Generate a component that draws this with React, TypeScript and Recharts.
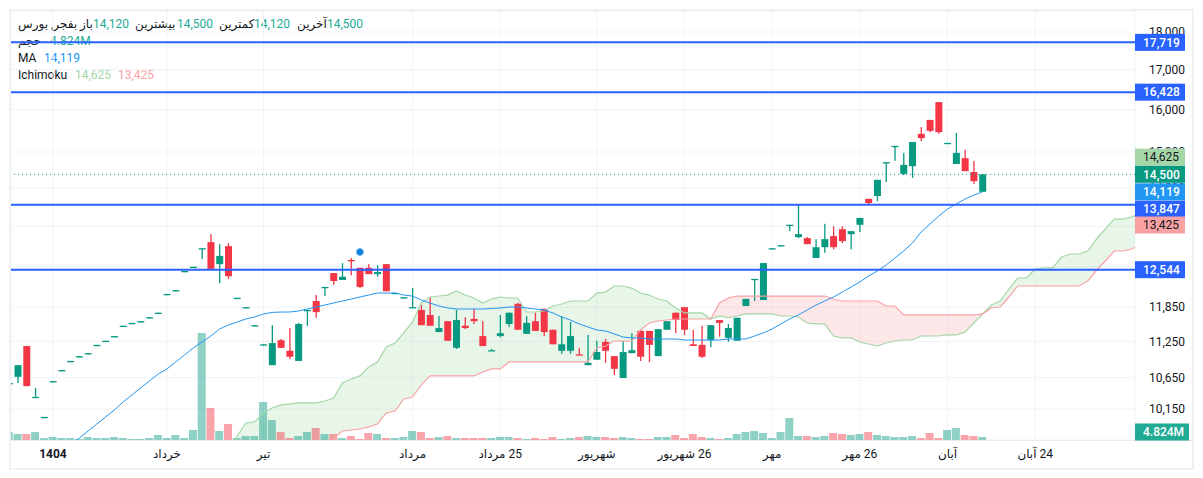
import React from 'react';
import { ComposedChart, Bar, Cell, Line, Area, XAxis, YAxis, CartesianGrid, ReferenceLine, ReferenceDot } from 'recharts';

const opens = [10560,
  10660,11170,10340,10030,10590,10770,10920,11000,11050,11190,
  11260,11340,11520,11570,11600,11670,11750,12090,12160,12520,
  12600,12960,13080,12650,13000,12020,11850,11530,11200,10850,
  11270,11090,10920,11800,11960,12220,12480,12350,12730,12580,
  12580,12460,12650,12110,12030,11850,11800,11710,11410,11600,
  11140,11520,11640,11340,11100,11340,11550,11910,11380,11600,
  11820,11450,11090,11090,11030,10850,10940,11240,11000,10640,
  11050,11430,11430,11000,11450,11750,11850,11200,11190,11270,
  11620,11310,11260,11870,12370,11980,12960,13020,13430,13180,
  13160,12770,12980,13200,13340,13240,13430,13970,14030,14770,
  15140,14510,14680,15420,15750,16180,15210,14730,14860,14550,14120];
const highs = [10560,
  10850,11170,10480,10030,10590,10770,10920,11000,11050,11190,
  11260,11340,11520,11570,11600,11670,11750,12090,12160,12520,
  12600,12960,13240,13040,13060,12020,11850,11530,11200,11530,
  11290,11480,11570,11800,12070,12220,12480,12670,12770,12580,
  12650,12630,12650,12110,12030,12200,11890,12030,11690,11600,
  11800,11670,11820,11600,11120,11710,11750,11930,11690,11750,
  11820,11450,11690,11590,11140,11360,11260,11290,11000,11260,
  11390,11450,11430,11460,11600,11750,11850,11450,11520,11530,
  11620,11550,11660,12000,12370,12670,12960,13020,13430,13840,
  13180,13140,13450,13400,13400,13300,13570,13970,14380,14770,
  15140,14980,15230,15580,15750,16180,15210,15440,15050,14800,14500];
const lows = [10560,
  10560,10510,10340,10030,10590,10770,10920,11000,11050,11190,
  11260,11340,11520,11570,11600,11670,11750,12090,12160,12520,
  12600,12750,12560,12290,12370,12020,11850,11530,11200,10850,
  11140,10950,10920,11520,11660,12050,12260,12350,12440,12200,
  12460,12410,12140,12110,12030,11850,11530,11520,11410,11260,
  11120,11460,11550,11170,11100,11320,11500,11450,11380,11430,
  11340,11200,11040,11040,11020,10850,10940,10890,10690,10640,
  11050,10920,10900,11000,11450,11390,11360,11170,10970,11150,
  11330,11240,11260,11870,11960,11980,12960,13020,13300,13160,
  13040,12770,12870,12940,13060,12940,13280,13860,13920,14330,
  14800,14480,14420,15250,15460,15420,15210,14730,14570,14290,14120];
const closes = [10560,
  10850,10510,10340,10030,10590,10770,10920,11000,11050,11190,
  11260,11340,11520,11570,11600,11670,11750,12090,12160,12520,
  12600,12960,12560,12810,12420,12020,11850,11530,11200,11220,
  11140,10990,11550,11800,11760,12220,12330,12410,12720,12220,
  12460,12500,12140,12110,12030,11850,11530,11520,11480,11260,
  11620,11480,11600,11170,11100,11390,11750,11450,11570,11430,
  11410,11200,11200,11340,11020,10890,11070,11090,10790,11070,
  11100,10990,11190,11460,11600,11620,11450,11170,10990,11530,
  11570,11480,11660,12000,12370,12670,12960,13020,13430,13240,
  13040,12980,13140,12980,13100,13300,13570,13880,14380,14770,
  15140,14710,15230,15320,15490,15460,15210,14980,14570,14350,14500];
const volumes = [12.8,
  9.6,9.6,12.8,3.2,4.8,3.2,3.2,1.6,4.8,3.2,
  3.2,4.8,3.2,1.6,1.6,3.2,8,3.2,8,3.2,
  16,171.2,51.2,14.4,25.6,3.2,6.4,6.4,60.8,32,
  12.8,3.2,6.4,12.8,19.2,9.6,9.6,3.2,6.4,1.6,
  11.2,9.6,3.2,3.2,4.8,14.4,12.8,3.2,4.8,6.4,
  3.2,3.2,3.2,3.2,3.2,4.8,4.8,3.2,1.6,3.2,
  1.6,4.8,1.6,3.2,4.8,6.4,4.8,4.8,3.2,4.8,
  3.2,1.6,1.6,4.8,4.8,8,3.2,9.6,4.8,3.2,
  1.6,3.2,9.6,12.8,14.4,11.2,3.2,12.8,35.2,6.4,
  6.4,4.8,6.4,11.2,9.6,8,9.6,12.8,8,6.4,
  4.8,4.8,6.4,3.2,11.2,3.2,16,19.2,8,6.4,4.824];

// moving average starts on bar 7, the cloud on bar 25
const maStart = 7;
const maValues = [9626,9713,9817,9923,10029,10136,10260,10370,10481,10593,
  10706,10788,10903,11020,11137,11239,11342,11463,11533,11586,
  11639,11674,11728,11755,11763,11763,11781,11817,11853,11889,
  11925,11961,11997,12034,12070,12107,12107,12107,12070,12052,
  11979,11925,11871,11835,11817,11817,11817,11817,11826,11835,
  11853,11853,11835,11817,11799,11746,11674,11621,11551,11498,
  11446,11429,11377,11325,11308,11308,11290,11290,11290,11290,
  11273,11273,11273,11273,11273,11290,11290,11290,11342,11394,
  11463,11551,11639,11710,11799,11889,11961,12034,12125,12218,
  12311,12424,12519,12634,12769,12905,13063,13284,13446,13608,
  13755,13861,13966,14050,14119];
const cloudStart = 25;
const spanA = [9510,9743,9938,9953,10090,10167,10214,10229,10245,10245,10245,10275,
  10323,10561,10625,10674,10821,10903,11154,11222,11394,11586,11925,12034,
  12052,12070,12144,12070,12016,11925,11997,12034,12016,12016,11763,11763,
  11781,11871,11907,11961,11961,11961,12107,12125,12237,12237,12199,12107,
  12070,11997,11961,11835,11746,11746,11746,11639,11692,11657,11692,11728,
  11728,11728,11728,11692,11692,11674,11568,11551,11551,11342,11308,11308,
  11239,11205,11171,11222,11256,11273,11273,11342,11342,11342,11360,11360,
  11412,11568,11728,11889,11961,12181,12387,12387,12557,12577,12577,12788,
  12847,12847,12905,13143,13344,13547,13547,13589,13672];
const spanB = [9300,9320,9350,9380,9400,9430,9460,9490,9530,9570,9620,9660,
  9713,9817,9832,9847,9878,9923,10090,10120,10307,10338,10529,10674,
  10674,10674,10674,10674,10674,10739,10788,10788,10903,10903,10903,10903,
  10903,10903,10903,10903,10903,10903,11137,11171,11256,11256,11256,11446,
  11568,11603,11621,11639,11639,11639,11639,11639,11925,12016,12052,12052,
  12052,12052,12052,12052,12052,12052,12052,12052,12052,11997,11961,11961,
  11961,11961,11961,11871,11871,11710,11710,11710,11710,11710,11710,11710,
  11710,11710,11728,11835,11853,12034,12237,12237,12237,12237,12237,12237,
  12237,12237,12330,12538,12711,12905,12905,12945,13024];

const priceTicks = [18000, 17000, 16000, 15000, 14200, 13400, 12600, 11850, 11250, 10650, 10150];
const dateTicks = [5, 18, 29, 46, 56, 67, 77, 87, 97, 107, 117];
const dateLabels = ['1404', 'خرداد', 'تیر', 'مرداد', '25 مرداد', 'شهریور', '26 شهریور', 'مهر', '26 مهر', 'آبان', '24 آبان'];
const levels = [17719, 16428, 13847, 12544];

const UP = '#089981';
const DOWN = '#f23645';
const LEVEL = '#2962ff';
const MA = '#2196f3';
const SPAN_A = '#a5d6a7';
const SPAN_B = '#faa1a4';
const PRICE_DOMAIN = [9684, 18584];
const BAR_DOMAIN = [0.213, 128.38];
const VOLUME_DOMAIN = [0, 686.4];

const rows = Array.from({ length: 130 }, (_, i) => ({
  i,
  open: opens[i] ?? null,
  high: highs[i] ?? null,
  low: lows[i] ?? null,
  close: closes[i] ?? null,
  volume: volumes[i] ?? null,
  ma: maValues[i - maStart] ?? null,
  a: spanA[i - cloudStart] ?? null,
  b: spanB[i - cloudStart] ?? null,
}));

const Candle = (props: any) => {
  const { x, y, width, height, payload } = props;
  if (payload.high == null || !isFinite(y)) return null;
  const { open, high, low, close } = payload;
  const color = close >= open ? UP : DOWN;
  const range = Math.log(high) - Math.log(low);
  const at = (v: number) => (range > 0 ? y + (height * (Math.log(high) - Math.log(v))) / range : y);
  const top = at(Math.max(open, close));
  const bottom = at(Math.min(open, close));
  return (
    <g>
      <rect x={x + width / 2 - 0.65} y={y} width={1.3} height={Math.max(height, 1.3)} fill={color} />
      <rect x={x} y={top} width={width} height={Math.max(bottom - top, 1.3)} fill={color} />
    </g>
  );
};

const tag = (text: string, fill: string, color: string, dy = 0, w = 50) => (props: any) => {
  const { x, y, width } = props.viewBox;
  const cy = y + dy;
  return (
    <g>
      <rect x={x + width} y={cy - 8.5} width={w} height={17} fill={fill} />
      <text x={x + width + 8} y={cy + 4.3} fontSize={12} fontWeight={color === '#fff' ? 500 : 400} fill={color} fontFamily="Roboto">{text}</text>
    </g>
  );
};

const DateTick = (props: any) => {
  const { x, payload } = props;
  const idx = dateTicks.indexOf(payload.value);
  return (
    <text x={x} y={458} textAnchor="middle" direction="rtl" fontSize={12} fill="#131722" fontWeight={idx === 0 ? 700 : 400} fontFamily="Roboto, 'DejaVu Sans'">
      {dateLabels[idx]}
    </text>
  );
};

const label = (left: number, top: number, text: string, color = '#131722') => (
  <span style={{ position: 'absolute', left, top, color, whiteSpace: 'nowrap', lineHeight: '16px' }}>{text}</span>
);

export default function App() {
  return (
    <div style={{ position: 'absolute', left: 0, top: 0, width: 1203, height: 478, background: '#fff', fontFamily: "Roboto, 'DejaVu Sans'", fontSize: 12 }}>
      <div style={{ position: 'absolute', left: 9, top: 9, width: 1181, height: 457, border: '2px solid #f0f1f6' }} />
      <div style={{ position: 'absolute', left: 11, top: 440, width: 1181, height: 1, background: '#e0e3eb' }} />
      {label(18, 16, 'بفجر, بورس')}
      {label(80, 16, 'باز')}
      {label(93, 16, '14,120', '#22ab94')}
      {label(135, 16, 'بیشترین')}
      {label(177, 16, '14,500', '#22ab94')}
      {label(219, 16, 'کمترین')}
      {label(254, 16, '14,120', '#22ab94')}
      {label(297, 16, 'آخرین')}
      {label(327, 16, '14,500', '#22ab94')}
      {label(18, 33, 'حجم')}
      {label(50, 33, '4.824M', '#22ab94')}
      {label(18, 50, 'MA')}
      {label(44, 50, '14,119', MA)}
      {label(18, 67, 'Ichimoku')}
      {label(75, 67, '14,625', SPAN_A)}
      {label(118, 67, '13,425', SPAN_B)}
      <div style={{ position: 'absolute', left: 0, top: 0 }}>
        <ComposedChart width={1203} height={478} data={rows} margin={{ top: 11, right: 11, bottom: 10, left: 11 }}>
          <XAxis xAxisId="x" dataKey="i" type="number" domain={BAR_DOMAIN} allowDataOverflow ticks={dateTicks} interval={0}
            height={28} axisLine={false} tickLine={false} tick={<DateTick />} />
          <XAxis xAxisId="vol" dataKey="i" type="number" domain={BAR_DOMAIN} allowDataOverflow hide />
          <YAxis yAxisId="price" orientation="right" scale="log" domain={PRICE_DOMAIN} allowDataOverflow ticks={priceTicks} interval={0}
            width={57} axisLine={false} tickLine={false} tickMargin={8} tickFormatter={(v: number) => v.toLocaleString('en-US')}
            tick={{ fill: '#131722', fontSize: 12, fontFamily: 'Roboto' }} />
          <YAxis yAxisId="volume" domain={VOLUME_DOMAIN} allowDataOverflow hide />
          <CartesianGrid xAxisId="x" yAxisId="price" stroke="#f0f3f6" />

          <Bar xAxisId="vol" yAxisId="volume" dataKey="volume" barSize={8} isAnimationActive={false} fillOpacity={0.45}>
            {rows.map((r) => (
              <Cell key={r.i} fill={r.close != null && r.close < (r.open as number) ? DOWN : UP} />
            ))}
          </Bar>

          <Area xAxisId="x" yAxisId="price" dataKey={(d: any) => (d.a != null && d.a >= d.b ? [d.b, d.a] : null)} stroke="none" fill={SPAN_A} fillOpacity={0.25} isAnimationActive={false} dot={false} activeDot={false} />
          <Area xAxisId="x" yAxisId="price" dataKey={(d: any) => (d.a != null && d.a <= d.b ? [d.a, d.b] : null)} stroke="none" fill={SPAN_B} fillOpacity={0.25} isAnimationActive={false} dot={false} activeDot={false} />
          <Line xAxisId="x" yAxisId="price" dataKey="a" stroke={SPAN_A} strokeWidth={1.2} dot={false} activeDot={false} isAnimationActive={false} />
          <Line xAxisId="x" yAxisId="price" dataKey="b" stroke={SPAN_B} strokeWidth={1.2} dot={false} activeDot={false} isAnimationActive={false} />
          <Line xAxisId="x" yAxisId="price" dataKey="ma" stroke={MA} strokeWidth={1} dot={false} activeDot={false} isAnimationActive={false} />

          <Bar xAxisId="x" yAxisId="price" dataKey={(d: any) => (d.high != null ? [d.low, d.high] : null)} barSize={7} shape={<Candle />} isAnimationActive={false} />

          <ReferenceDot xAxisId="x" yAxisId="price" x={40} y={12886} r={3.5} fill="#0a7ddb" stroke="#6db5ee" strokeWidth={1} />

          <ReferenceLine xAxisId="x" yAxisId="price" y={14500} stroke={UP} strokeDasharray="1 3" />
          {levels.map((v) => (
            <ReferenceLine key={v} xAxisId="x" yAxisId="price" y={v} stroke={LEVEL} strokeWidth={2} />
          ))}
        </ComposedChart>
      </div>
      {/* price tags sit in their own chart so they cover the axis labels */}
      <div style={{ position: 'absolute', left: 0, top: 0 }}>
        <ComposedChart width={1203} height={478} data={rows} margin={{ top: 11, right: 68, bottom: 38, left: 11 }}>
          <XAxis dataKey="i" type="number" domain={BAR_DOMAIN} allowDataOverflow hide />
          <YAxis yAxisId="price" scale="log" domain={PRICE_DOMAIN} allowDataOverflow hide />
          <YAxis yAxisId="volume" domain={VOLUME_DOMAIN} allowDataOverflow hide />
          <ReferenceLine yAxisId="volume" y={4.824} stroke="none" label={tag('4.824M', '#22ab94', '#fff', -5, 54)} />
          <ReferenceLine yAxisId="price" y={17719} stroke="none" label={tag('17,719', LEVEL, '#fff')} />
          <ReferenceLine yAxisId="price" y={16428} stroke="none" label={tag('16,428', LEVEL, '#fff')} />
          <ReferenceLine yAxisId="price" y={12544} stroke="none" label={tag('12,544', LEVEL, '#fff')} />
          <ReferenceLine yAxisId="price" y={14625} stroke="none" label={tag('14,625', SPAN_A, '#131722', -11.5)} />
          <ReferenceLine yAxisId="price" y={14500} stroke="none" label={tag('14,500', UP, '#fff')} />
          <ReferenceLine yAxisId="price" y={14119} stroke="none" label={tag('14,119', MA, '#fff')} />
          <ReferenceLine yAxisId="price" y={13847} stroke="none" label={tag('13,847', LEVEL, '#fff', 4.5)} />
          <ReferenceLine yAxisId="price" y={13425} stroke="none" label={tag('13,425', SPAN_B, '#131722')} />
        </ComposedChart>
      </div>
    </div>
  );
}
